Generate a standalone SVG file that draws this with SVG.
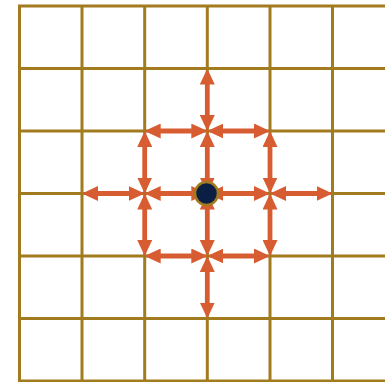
<svg xmlns="http://www.w3.org/2000/svg" width="385" height="382" viewBox="0 0 385 382">
<style>
.grid line{stroke:#a27b1e;stroke-width:3}
.conn line{stroke:#d85c32;stroke-width:4.8;marker-start:url(#ah);marker-end:url(#ah)}
</style>
<defs>
<marker id="ah" markerUnits="userSpaceOnUse" markerWidth="16" markerHeight="15" refX="8" refY="7.5" orient="auto-start-reverse" viewBox="0 0 16 15">
<path d="M0,0 L16,7.5 L0,15 z" fill="#d85c32"/>
</marker>
</defs>
<rect width="385" height="382" fill="#ffffff"/>
<g id="grid" class="grid">
<line x1="19.5" y1="6" x2="19.5" y2="382"/>
<line x1="82" y1="6" x2="82" y2="382"/>
<line x1="144.7" y1="6" x2="144.7" y2="382"/>
<line x1="207.3" y1="6" x2="207.3" y2="382"/>
<line x1="270" y1="6" x2="270" y2="382"/>
<line x1="332.5" y1="6" x2="332.5" y2="382"/>
<line x1="18" y1="6" x2="385" y2="6"/>
<line x1="18" y1="68.5" x2="385" y2="68.5"/>
<line x1="18" y1="131" x2="385" y2="131"/>
<line x1="18" y1="193.5" x2="385" y2="193.5"/>
<line x1="18" y1="256" x2="385" y2="256"/>
<line x1="18" y1="318.5" x2="385" y2="318.5"/>
<line x1="18" y1="381" x2="385" y2="381"/>
</g>
<g id="connectors" class="conn">
<line x1="207.3" y1="76.5" x2="207.3" y2="123"/>
<line x1="207.3" y1="139" x2="207.3" y2="185.5"/>
<line x1="207.3" y1="201.5" x2="207.3" y2="248"/>
<line x1="207.3" y1="264" x2="207.3" y2="310.5"/>
<line x1="90" y1="193.5" x2="136.7" y2="193.5"/>
<line x1="152.7" y1="193.5" x2="199.3" y2="193.5"/>
<line x1="215.3" y1="193.5" x2="262" y2="193.5"/>
<line x1="278" y1="193.5" x2="324.5" y2="193.5"/>
<line x1="152.7" y1="131" x2="199.3" y2="131"/>
<line x1="215.3" y1="131" x2="262" y2="131"/>
<line x1="270" y1="139" x2="270" y2="185.5"/>
<line x1="270" y1="201.5" x2="270" y2="248"/>
<line x1="262" y1="256" x2="215.3" y2="256"/>
<line x1="199.3" y1="256" x2="152.7" y2="256"/>
<line x1="144.7" y1="248" x2="144.7" y2="201.5"/>
<line x1="144.7" y1="185.5" x2="144.7" y2="139"/>
</g>
<g id="center-node">
<circle cx="206.5" cy="193.5" r="11.5" fill="#0b1e44" stroke="#a27b1e" stroke-width="2.5"/>
</g>
</svg>
